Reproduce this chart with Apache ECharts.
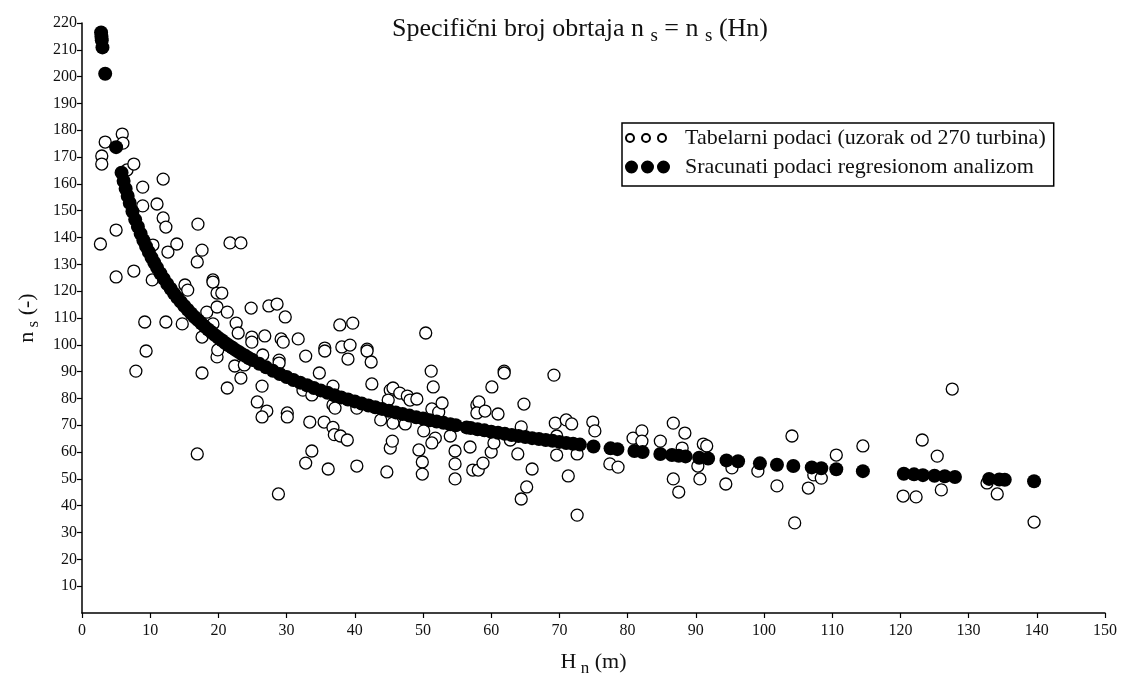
<!DOCTYPE html>
<html>
<head>
<meta charset="utf-8">
<title>Specifični broj obrtaja</title>
<script src="https://cdn.jsdelivr.net/npm/echarts@6/dist/echarts.min.js"></script>
<style>
  html, body { margin: 0; padding: 0; background: #fff; }
  #chart { width: 1121px; height: 675px; }
</style>
</head>
<body>
<div id="chart"></div>
<script>
// Tabular turbine data: net head H_n (m) and specific speed n_s (-)
const tabH = [
  2.7, 2.9, 2.9, 3.4, 5.0, 5.0, 5.9, 6.0, 6.6, 7.6, 7.6, 7.9, 8.9, 8.9, 9.2, 9.4, 10.3, 10.4, 11.0, 11.9,
  11.9, 12.3, 12.3, 12.6, 13.9, 14.7, 15.1, 15.5,
  16.9, 16.9, 17.0, 17.6, 17.6, 17.6, 18.3, 19.2, 19.2, 19.2, 19.8, 20.5, 19.8, 19.8, 19.9, 21.3, 21.3, 21.7,
  23.3, 22.6, 22.9, 22.4, 23.3, 23.8, 24.8, 24.9, 24.9, 26.8, 26.5, 26.4, 25.7, 27.1, 26.4, 27.4, 28.6, 29.8,
  29.2, 29.5, 28.9, 28.9, 28.8, 30.1, 30.1,
  31.7, 32.8, 32.4, 33.7, 33.4, 32.8, 33.7, 34.8, 35.5, 35.6, 35.6, 36.1, 36.8, 36.8, 37.1, 36.8, 37.0, 37.9,
  38.9, 37.8, 39.7, 38.1, 39.3, 39.0, 40.3, 40.3, 41.8, 41.8, 42.4, 42.5, 43.8, 44.7, 45.2, 45.6, 44.9, 45.6,
  45.2, 45.5, 46.6, 47.4, 47.7, 48.1, 49.1, 49.4, 49.9, 49.9, 50.1, 50.4, 51.2, 51.5, 51.3, 52.3, 52.8, 51.8,
  51.3, 54.0, 54.7, 54.7, 54.7, 56.9, 57.3, 58.1, 58.8, 60.0, 60.4, 57.9, 58.2, 57.9, 59.1, 61.0, 60.1, 61.9,
  61.9, 64.8, 64.4, 62.8, 63.9, 66.0, 65.2, 64.4, 69.2, 69.4, 71.0, 71.8, 69.6, 69.6, 71.3, 72.6, 72.6, 74.9,
  75.2,
  77.4, 78.6, 80.8, 82.1, 82.1, 84.8, 86.7, 88.4, 86.7, 87.5, 88.0, 91.1, 91.6, 90.3, 90.6, 95.3, 94.4, 99.1,
  101.9, 104.1, 104.5, 106.5, 107.3, 108.4, 110.6, 114.5, 120.4, 122.3, 123.2, 125.4, 126.0, 127.6, 132.7,
  134.2, 139.6
];
const tabNs = [
  137.6, 170.4, 167.4, 175.6, 142.8, 125.3, 178.6, 175.2, 165.2, 167.4, 127.5, 90.2, 158.8, 151.8, 108.5, 97.7, 124.2, 137.2, 152.5, 161.8,
  147.3, 143.9, 108.5, 134.6, 137.6, 107.8, 122.3, 120.4,
  59.3, 130.9, 145.0, 135.3, 102.9, 89.5, 112.2, 124.2, 123.4, 107.8, 119.3, 119.3, 114.1, 95.5, 98.1, 112.2, 83.9, 138.0,
  138.0, 108.1, 104.4, 92.1, 87.6, 92.5, 113.7, 102.9, 101.0, 103.3, 96.2, 84.6, 78.7, 75.3, 73.1, 114.5, 115.2, 110.4,
  102.2, 101.0, 94.3, 93.2, 44.4, 74.6, 73.1,
  102.2, 95.8, 83.1, 81.3, 71.2, 55.9, 60.4, 89.5, 71.2, 98.8, 97.7, 53.7, 84.6, 77.6, 76.4, 69.2, 66.5, 66.0,
  64.5, 107.4, 108.1, 99.2, 99.9, 94.7, 76.4, 54.8, 98.4, 97.7, 93.6, 85.4, 72.0, 52.6, 83.1, 83.9, 79.4, 70.8,
  61.5, 64.1, 82.0, 70.5, 80.9, 79.4, 79.8, 60.8, 56.3, 51.8, 67.9, 104.4, 90.2, 84.3, 76.1, 74.9, 78.3, 65.2,
  63.4, 66.0, 60.4, 55.6, 50.0, 61.9, 53.3, 53.3, 55.9, 60.0, 63.4, 77.6, 78.7, 74.6, 75.3, 74.2, 84.3, 90.2,
  89.5, 77.9, 69.4, 64.5, 59.3, 53.7, 47.0, 42.5, 88.7, 70.8, 72.0, 70.5, 58.9, 66.0, 51.1, 59.3, 36.5, 71.2,
  67.9,
  55.6, 54.4, 65.2, 67.9, 64.1, 64.1, 70.8, 67.1, 50.0, 45.1, 61.5, 63.0, 62.3, 54.8, 50.0, 54.1, 48.1, 52.9,
  47.4, 66.0, 33.6, 46.6, 51.5, 50.3, 58.9, 62.3, 43.6, 43.3, 64.5, 58.5, 45.9, 83.5, 48.5,
  44.4, 33.9
];

// Values obtained by regression analysis, one per computed head
const calcH = [
  2.8, 2.85, 2.9, 3.0, 3.4, 5.0, 5.8, 6.1, 6.4, 6.7, 7.0, 7.4, 7.8, 8.2, 8.6, 9.0, 9.4, 9.8, 10.2, 10.6,
  11.0, 11.5, 12.0, 12.5, 13.0, 13.5, 14.0, 14.5, 15.0, 15.5, 16.0, 16.5, 17.0, 17.5, 18.0, 18.5, 19.0, 19.5,
  20.0, 20.5, 21.0, 21.5, 22.0, 22.5, 23.0, 23.5, 24.0, 24.5, 25.0,
  26, 27, 28, 29, 30, 31, 32, 33, 34, 35, 36, 37, 38, 39, 40, 41, 42, 43, 44, 45, 46, 47, 48, 49, 50,
  51, 52, 53, 54, 54.8, 56.4, 57, 58, 59, 60, 61, 62, 63, 64, 65, 66, 67, 68, 69, 70, 71, 72, 73,
  75, 77.5, 78.5, 81, 82.2, 84.8, 86.5, 87.5, 88.5, 90.5, 91.8, 94.5, 96.2, 99.4, 101.9, 104.3, 107.0,
  108.4, 110.6, 114.5, 120.5, 122.0, 123.3, 125.0, 126.5, 128.0, 133.0, 134.5, 135.3, 139.6
];
const calcNs = [
  216.5, 215.0, 213.6, 210.9, 201.1, 173.7, 164.2, 161.1, 158.2, 155.5, 152.9, 149.7, 146.7, 144.0, 141.4, 139.0, 136.7, 134.6, 132.5, 130.6,
  128.8, 126.6, 124.6, 122.7, 120.9, 119.1, 117.5, 116.0, 114.5, 113.1, 111.7, 110.4, 109.2, 108.0, 106.8, 105.7, 104.7, 103.6,
  102.6, 101.7, 100.7, 99.8, 99.0, 98.1, 97.3, 96.5, 95.8, 95.0, 94.3,
  92.9, 91.6, 90.3, 89.1, 88.0, 86.9, 85.9, 84.9, 83.9, 83.0, 82.1, 81.2, 80.4, 79.6, 78.9, 78.1, 77.4, 76.7, 76.1, 75.4, 74.8, 74.2, 73.6, 73.0, 72.5,
  71.9, 71.4, 70.9, 70.4, 70.0, 69.2, 69.0, 68.5, 68.1, 67.6, 67.2, 66.8, 66.4, 66.0, 65.6, 65.2, 64.9, 64.5, 64.2, 63.8, 63.4, 63.1, 62.8,
  62.1, 61.4, 61.1, 60.4, 60.0, 59.3, 58.9, 58.6, 58.4, 57.9, 57.6, 56.9, 56.6, 55.8, 55.3, 54.8, 54.3,
  54.0, 53.6, 52.9, 51.9, 51.7, 51.4, 51.2, 51.0, 50.7, 50.0, 49.8, 49.7, 49.1
];

const seriesNames = [
  'Tabelarni podaci (uzorak od 270 turbina)',
  'Sracunati podaci regresionom analizom'
];

const zip = (xs, ys) => xs.map((x, i) => [x, ys[i]]);

const FONT = '"Liberation Serif", "Times New Roman", serif';
const INK = '#111';

// Legend icons: a row of three open / filled circles, with blank room after them
const openIcon = 'path://M0,0L0,0M1,6.5a4,4 0 1,0 8,0a4,4 0 1,0 -8,0M17,6.5a4,4 0 1,0 8,0a4,4 0 1,0 -8,0M33,6.5a4,4 0 1,0 8,0a4,4 0 1,0 -8,0M55,13L55,13';
const filledIcon = 'path://M0,0L0,0M0,6.5a6.5,6.5 0 1,0 13,0a6.5,6.5 0 1,0 -13,0M16,6.5a6.5,6.5 0 1,0 13,0a6.5,6.5 0 1,0 -13,0M32,6.5a6.5,6.5 0 1,0 13,0a6.5,6.5 0 1,0 -13,0M55,13L55,13';

const chart = echarts.init(document.getElementById('chart'), null, { renderer: 'canvas' });

chart.setOption({
  backgroundColor: '#fff',
  animation: false,
  title: {
    left: 575,
    textAlign: 'center',
    top: 8,
    text: '{t|Specifični broj obrtaja n }{s|s}{t| = n }{s|s}{t| (Hn)}',
    textStyle: {
      fontWeight: 'normal',
      rich: {
        t: { fontFamily: FONT, fontSize: 26, fontWeight: 'normal', color: INK },
        s: { fontFamily: FONT, fontSize: 19, fontWeight: 'normal', color: INK, padding: [14, 0, 0, 0] }
      }
    }
  },
  legend: {
    left: 622,
    top: 123,
    orient: 'vertical',
    padding: [4, 8, 8, 2],
    itemGap: 7,
    itemWidth: 55,
    itemHeight: 13,
    borderColor: '#000',
    borderWidth: 1.5,
    textStyle: { fontFamily: FONT, fontSize: 22, color: INK },
    data: [
      { name: seriesNames[0], icon: openIcon },
      { name: seriesNames[1], icon: filledIcon }
    ]
  },
  grid: { left: 82, right: 16, top: 23, bottom: 62, outerBoundsMode: 'none' },
  xAxis: {
    type: 'value',
    min: 0, max: 150, interval: 10,
    name: '{t|H}{s| n}{t| (m)}',
    nameLocation: 'middle',
    nameGap: 35,
    nameTextStyle: {
      rich: {
        t: { fontFamily: FONT, fontSize: 22, color: INK },
        s: { fontFamily: FONT, fontSize: 17, color: INK, padding: [12, 0, 0, 0] }
      }
    },
    axisLine: { onZero: false, lineStyle: { color: '#000', width: 1.5 } },
    axisTick: { show: true, length: 5, lineStyle: { color: '#000', width: 1.2 } },
    axisLabel: { fontFamily: FONT, fontSize: 16, color: INK, margin: 10 },
    splitLine: { show: false }
  },
  yAxis: {
    type: 'value',
    min: 0, max: 220, interval: 10,
    name: '{t|n}{s| s}{t| (-)}',
    nameLocation: 'middle',
    nameGap: 40,
    nameTextStyle: {
      rich: {
        t: { fontFamily: FONT, fontSize: 22, color: INK },
        s: { fontFamily: FONT, fontSize: 17, color: INK, padding: [12, 0, 0, 0] }
      }
    },
    axisLine: { onZero: false, lineStyle: { color: '#000', width: 1.5 } },
    axisTick: { show: true, length: 5, lineStyle: { color: '#000', width: 1.2 } },
    axisLabel: { fontFamily: FONT, fontSize: 16, color: INK, margin: 5, showMinLabel: false },
    splitLine: { show: false }
  },
  series: [
    {
      name: seriesNames[0],
      type: 'scatter',
      symbol: 'circle',
      symbolSize: 12,
      data: zip(tabH, tabNs),
      itemStyle: { color: '#fff', borderColor: '#000', borderWidth: 1.3, opacity: 1 },
      z: 2
    },
    {
      name: seriesNames[1],
      type: 'scatter',
      symbol: 'circle',
      symbolSize: 14,
      data: zip(calcH, calcNs),
      itemStyle: { color: '#000', opacity: 1 },
      z: 3
    }
  ]
});
</script>
</body>
</html>
